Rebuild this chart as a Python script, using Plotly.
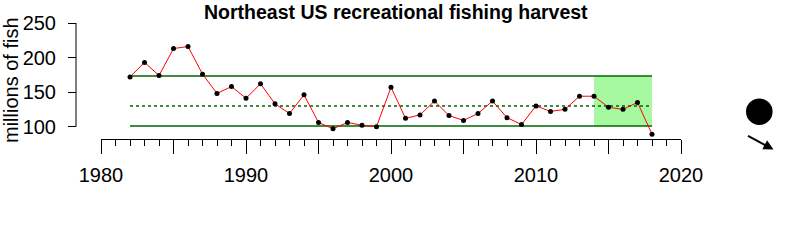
import plotly.graph_objects as go

years = list(range(1982, 2019))
harvest = [172, 193, 174, 213, 216, 176, 148, 158, 141, 162, 133, 119, 146,
           106, 97, 106, 102, 100, 157, 112, 117, 137, 116, 109, 119, 137,
           113, 103, 130, 122, 125, 144, 144, 128, 125, 135, 89]
ref_mean = 130
ref_upper = 173.4
ref_lower = 101
trend_start = 2014
trend_end = 2018
title_text = "Northeast US recreational fishing harvest"
y_title = "millions of fish"
x_major = list(range(1980, 2021, 5))
x_labels = [str(v) if v % 10 == 0 else "" for v in x_major]
y_ticks = [100, 150, 200, 250]

FONT = "Liberation Sans, Arial, sans-serif"
W, H = 800, 240
ML, MR, MT, MB = 76, 119, 23, 101
PW = W - ML - MR
PH = H - MT - MB


def px_x(p):
    return (p - ML) / PW


def px_y(p):
    return (H - MB - p) / PH


fig = go.Figure()

fig.add_shape(type="rect", x0=trend_start, x1=trend_end, y0=ref_lower, y1=ref_upper,
              xref="x", yref="y", fillcolor="#a6f9a0", line=dict(width=0), layer="below")

for val, dash in [(ref_upper, "solid"), (ref_lower, "solid"), (ref_mean, "dot")]:
    fig.add_trace(go.Scatter(x=[years[0], years[-1]], y=[val, val], mode="lines",
                             line=dict(color="#006400", width=1.5, dash=dash),
                             hoverinfo="skip", showlegend=False))

fig.add_trace(go.Scatter(x=years, y=harvest, mode="lines+markers",
                         line=dict(color="red", width=1),
                         marker=dict(color="black", size=5),
                         showlegend=False, cliponaxis=False))

# y axis line only over tick range
fig.add_shape(type="line", xref="paper", yref="y", x0=0, x1=0,
              y0=y_ticks[0], y1=y_ticks[-1], line=dict(color="black", width=1))

# status symbol and trend arrow
fig.add_shape(type="circle", xref="paper", yref="paper",
              xsizemode="pixel", ysizemode="pixel",
              xanchor=px_x(759.3), yanchor=px_y(111.7),
              x0=-13.3, x1=13.3, y0=-13.3, y1=13.3,
              fillcolor="black", line=dict(color="black", width=0))
fig.add_annotation(x=px_x(773.5), y=px_y(149.5), xref="paper", yref="paper",
                   text="", showarrow=True, ax=-27, ay=-14.5, axref="pixel", ayref="pixel",
                   arrowhead=2, arrowsize=1, arrowwidth=2, arrowcolor="black", standoff=0)

fig.add_annotation(x=px_x(396), y=px_y(0), xref="paper", yref="paper",
                   text="<b>" + title_text + "</b>", showarrow=False,
                   font=dict(family=FONT, size=19.5, color="black"),
                   xanchor="center", yanchor="top", borderpad=0)
fig.add_annotation(x=px_x(10.5), y=px_y(80.5), xref="paper", yref="paper",
                   text=y_title, showarrow=False, textangle=-90,
                   font=dict(family=FONT, size=20, color="black"),
                   xanchor="center", yanchor="middle")

fig.update_layout(
    width=W, height=H,
    margin=dict(l=ML, r=MR, t=MT, b=MB, pad=0),
    paper_bgcolor="white", plot_bgcolor="white",
    font=dict(family=FONT, size=20, color="black"),
    xaxis=dict(domain=[25 / PW, 1], range=[1980, 2020], showgrid=False, zeroline=False,
               showline=True, linecolor="black", linewidth=1,
               ticks="outside", tickvals=x_major, ticktext=x_labels, ticklen=14,
               tickwidth=1, tickcolor="black", ticklabelstandoff=4,
               minor=dict(dtick=1, tick0=1980, ticks="outside", ticklen=6,
                          tickcolor="black", tickwidth=1, showgrid=False),
               tickfont=dict(family=FONT, size=20)),
    yaxis=dict(anchor="free", position=0, range=[82.1, 250], showgrid=False,
               zeroline=False, showline=False, ticks="outside", tickvals=y_ticks,
               ticklen=8, tickwidth=1, tickcolor="black", ticklabelstandoff=8,
               tickfont=dict(family=FONT, size=20)),
)

fig.write_html("out.html")
